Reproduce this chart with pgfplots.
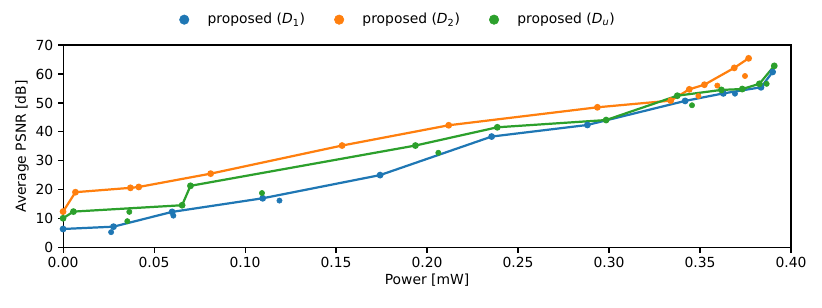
\documentclass[border=0pt]{standalone}
\usepackage{fontspec}
\setmainfont{DejaVu Sans}
\usepackage{pgfplots}
\pgfplotsset{compat=1.18}
\definecolor{tabblue}{HTML}{1F77B4}
\definecolor{taborange}{HTML}{FF7F0E}
\definecolor{tabgreen}{HTML}{2CA02C}
\begin{document}
\begin{tikzpicture}
\begin{axis}[
  scale only axis,
  width=524pt, height=146pt,
  xmin=0, xmax=0.40, ymin=0, ymax=70,
  xtick={0,0.05,...,0.40},
  ytick={0,10,...,70},
  xticklabel style={/pgf/number format/.cd,fixed,fixed zerofill,precision=2},
  /pgf/number format/assume math mode=true,
  tick label style={font=\fontsize{10}{12}\selectfont},
  label style={font=\fontsize{10}{12}\selectfont},
  xlabel={Power [mW]},
  ylabel={Average PSNR [dB]},
  tick pos=left,
  tick align=outside,
  major tick length=3.5pt,
  axis line style={line width=0.8pt},
  every tick/.style={black, line width=0.8pt},
  xlabel style={yshift=3pt},
  ylabel style={yshift=-2pt},
  legend columns=3,
  legend style={draw=none, fill=none, at={(0.456,1.125)}, anchor=center,
    font=\fontsize{10}{12}\selectfont,
    /tikz/every even column/.append style={column sep=14pt}},
  legend cell align=left,
  legend image code/.code={\path[draw=none,fill=none] (0cm,0cm) -- (0.82cm,0cm); \path[#1] plot[mark=*, mark size=3.4pt] coordinates {(0.3cm,0cm)};},
]
\addlegendimage{only marks, mark=*, color=tabblue}
\addlegendentry{proposed (\textit{D}\textsubscript{1})}
\addlegendimage{only marks, mark=*, color=taborange}
\addlegendentry{proposed (\textit{D}\textsubscript{2})}
\addlegendimage{only marks, mark=*, color=tabgreen}
\addlegendentry{proposed (\textit{D}\textsubscript{\textit{u}})}

% blue
\addplot[forget plot, color=tabblue, line width=1.6pt, mark=*, mark size=1.6pt] coordinates {
(0,6.5) (0.0277,7.3) (0.0599,12.4) (0.1097,17.1) (0.1742,25.1) (0.2355,38.4) (0.2881,42.4) (0.3418,50.7) (0.3628,53.3) (0.3835,55.4) (0.3899,60.7)};
\addplot[forget plot, only marks, color=tabblue, mark=*, mark size=1.9pt] coordinates {
(0.0264,5.4) (0.0606,11.1) (0.1189,16.3) (0.3692,53.2)};
% orange
\addplot[forget plot, color=taborange, line width=1.6pt, mark=*, mark size=1.6pt] coordinates {
(0,12.5) (0.0068,19.2) (0.0370,20.7) (0.0416,21.0) (0.0811,25.6) (0.1533,35.3) (0.2119,42.3) (0.2936,48.5) (0.3339,50.8) (0.3441,54.7) (0.3524,56.3) (0.3688,62.1) (0.3767,65.4)};
\addplot[forget plot, only marks, color=taborange, mark=*, mark size=1.9pt] coordinates {
(0.3491,52.4) (0.3595,56.0) (0.3747,59.3)};
% green
\addplot[forget plot, color=tabgreen, line width=1.6pt, mark=*, mark size=1.6pt] coordinates {
(0,10.2) (0.0057,12.5) (0.0654,14.7) (0.0700,21.4) (0.1936,35.3) (0.2386,41.6) (0.2984,44.1) (0.3375,52.5) (0.3617,54.5) (0.3732,54.8) (0.3826,56.6) (0.3908,62.8)};
\addplot[forget plot, only marks, color=tabgreen, mark=*, mark size=1.9pt] coordinates {
(0.0364,12.4) (0.0353,9.2) (0.1093,18.9) (0.2062,32.8) (0.3456,49.2) (0.3866,56.6)};
\end{axis}
\pgfresetboundingbox
\useasboundingbox ([xshift=-45.4pt,yshift=-43.2pt]current axis.south west) rectangle ([xshift=22.3pt,yshift=32.4pt]current axis.north east);
\end{tikzpicture}
\end{document}
